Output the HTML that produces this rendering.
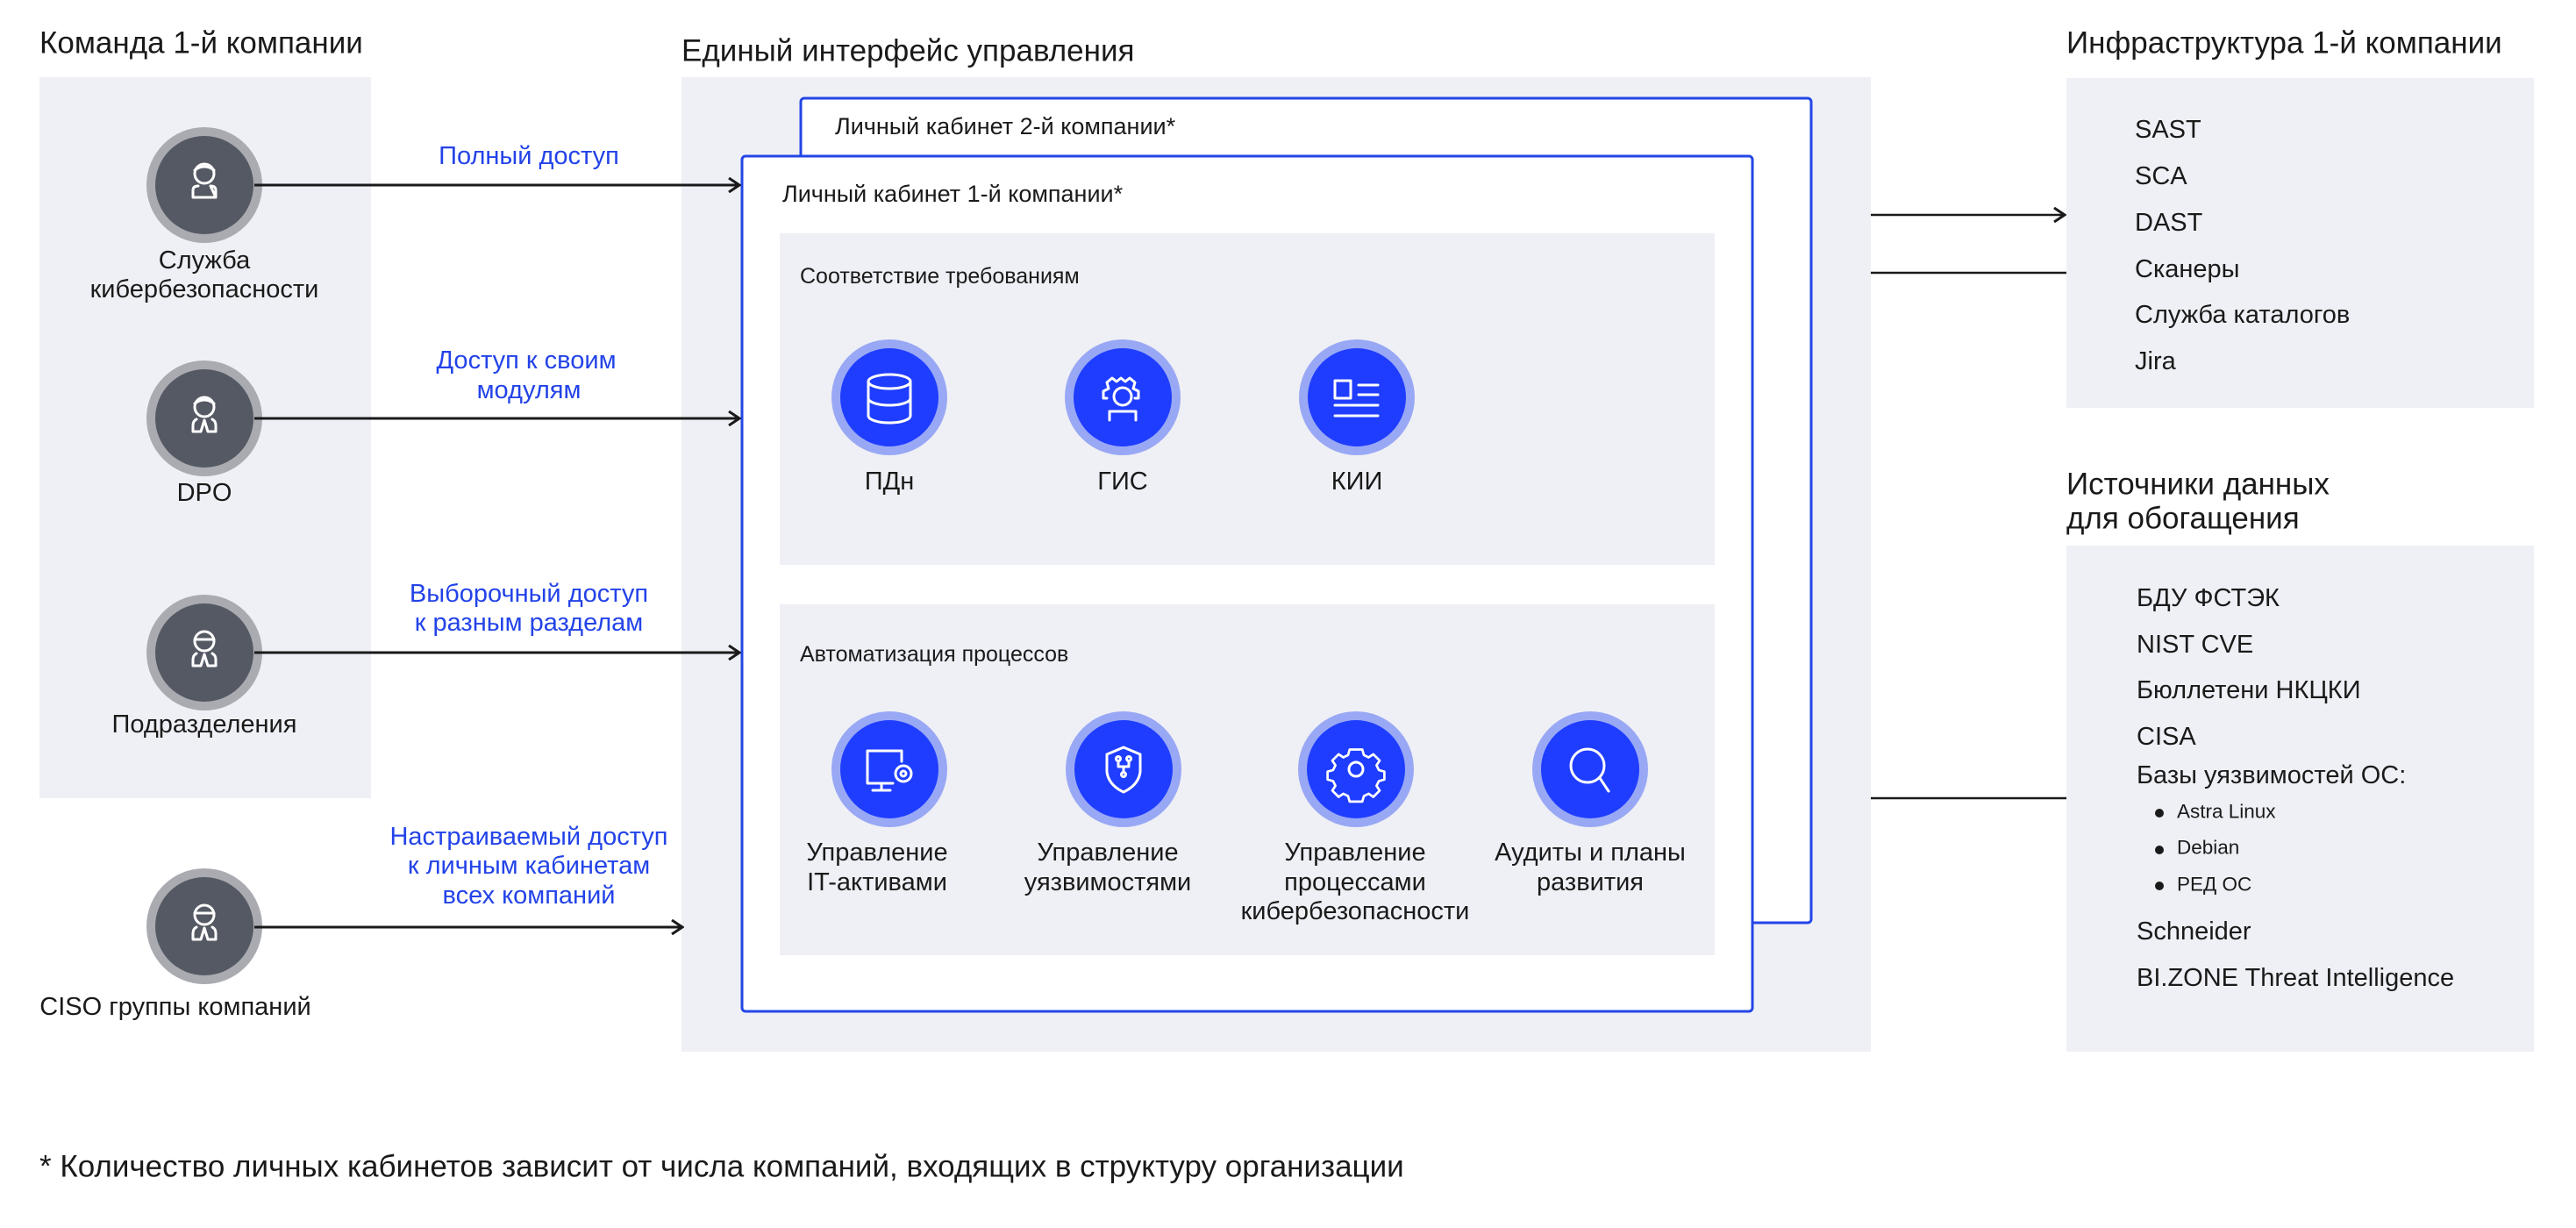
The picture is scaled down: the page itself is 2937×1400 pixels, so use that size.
<!DOCTYPE html>
<html><head><meta charset="utf-8"><style>
html,body{margin:0;padding:0;background:#fff;}
svg{display:block;}
text{font-family:"Liberation Sans","Noto Sans CJK SC",sans-serif;fill:#1a1a1a;dominant-baseline:central;}
.h{font-size:35px;}
.b{font-size:29px;}
.t{font-size:27px;}
.c{font-size:25px;}
.r{font-size:29px;}
.s{font-size:22.5px;}
.bl{fill:#2343e8;font-size:29px;}
.ic{fill:none;stroke:#fff;stroke-width:3;stroke-linecap:round;stroke-linejoin:round;}
</style></head><body>
<svg width="2937" height="1400" viewBox="0 0 2937 1400" xmlns="http://www.w3.org/2000/svg">
<defs>
<marker id="ah" markerWidth="20" markerHeight="20" refX="18" refY="10" orient="auto" markerUnits="userSpaceOnUse">
<path d="M6 2 L18 10 L6 18" fill="none" stroke="#1a1a1a" stroke-width="3"/>
</marker>
</defs>
<rect x="45" y="88" width="378" height="822" fill="#eff0f5"/>
<rect x="777" y="88" width="1356" height="1111" fill="#eff0f5"/>
<rect x="2356" y="89" width="533" height="376" fill="#eff0f5"/>
<rect x="2356" y="622" width="533" height="577" fill="#eff0f5"/>

<text class="h" x="45" y="49">Команда 1-й компании</text>
<text class="h" x="777" y="58">Единый интерфейс управления</text>
<text class="h" x="2356" y="49">Инфраструктура 1-й компании</text>
<text class="h" x="2356" y="552">Источники данных</text>
<text class="h" x="2356" y="591">для обогащения</text>

<rect x="913" y="112" width="1152" height="940" rx="4" fill="#fff" stroke="#2346e6" stroke-width="3"/>
<text class="t" x="952" y="144">Личный кабинет 2-й компании*</text>
<rect x="846" y="178" width="1152" height="975" rx="4" fill="#fff" stroke="#2346e6" stroke-width="3"/>
<text class="t" x="892" y="221">Личный кабинет 1-й компании*</text>

<rect x="889" y="266" width="1066" height="378" fill="#eff0f5"/>
<text class="c" x="912" y="315">Соответствие требованиям</text>
<rect x="889" y="689" width="1066" height="400" fill="#eff0f5"/>
<text class="c" x="912" y="746">Автоматизация процессов</text>

<g transform="translate(0 14)">
<circle cx="1014" cy="439" r="66" fill="#99a8f5"/><circle cx="1014" cy="439" r="56" fill="#1f3dff"/>
<circle cx="1280" cy="439" r="66" fill="#99a8f5"/><circle cx="1280" cy="439" r="56" fill="#1f3dff"/>
<circle cx="1547" cy="439" r="66" fill="#99a8f5"/><circle cx="1547" cy="439" r="56" fill="#1f3dff"/>
<g class="ic"><ellipse cx="1014" cy="421" rx="24" ry="8"/><path d="M990 421 V460 A24 8 0 0 0 1038 460 V421 M990 440 A24 8 0 0 0 1038 440"/></g>
<g class="ic"><circle cx="1280" cy="438" r="10"/><path d="M1262 440 l-4 0 0 -8 6 -3 -2 -7 6 -5 5 4 5 -4 5 4 5 -4 6 5 -2 7 6 3 0 8 -4 0"/><path d="M1265 465 V455 H1295 V465"/></g>
<g class="ic"><rect x="1522" y="420" width="18" height="20"/><path d="M1549 425 H1571 M1549 436 H1571 M1522 448 H1571 M1522 460 H1571"/></g>
</g>
<text class="b" x="1014" y="549" text-anchor="middle">ПДн</text>
<text class="b" x="1280" y="549" text-anchor="middle">ГИС</text>
<text class="b" x="1547" y="549" text-anchor="middle">КИИ</text>

<g>
<circle cx="1014" cy="877" r="66" fill="#99a8f5"/><circle cx="1014" cy="877" r="56" fill="#1f3dff"/>
<circle cx="1281" cy="877" r="66" fill="#99a8f5"/><circle cx="1281" cy="877" r="56" fill="#1f3dff"/>
<circle cx="1546" cy="877" r="66" fill="#99a8f5"/><circle cx="1546" cy="877" r="56" fill="#1f3dff"/>
<circle cx="1813" cy="877" r="66" fill="#99a8f5"/><circle cx="1813" cy="877" r="56" fill="#1f3dff"/>
<g class="ic"><path d="M1018 893 H989 V856 H1028 V868 M1005 893 V900 M995 901 H1015"/><circle cx="1030" cy="882" r="9"/><circle cx="1030" cy="882" r="3"/></g>
<g class="ic"><path d="M1281 852 L1262 860 V880 Q1264 895 1281 903 Q1298 895 1300 880 V860 Z"/><circle cx="1275" cy="865" r="2.5"/><circle cx="1287" cy="865" r="2.5"/><path d="M1275 868 V874 H1287 V868 M1281 874 V880"/><circle cx="1281" cy="883" r="2.5"/></g>
<g class="ic"><circle cx="1546" cy="877" r="8"/><path d="M1538 852 h16 l2 7 6 3 6 -4 8 8 -4 6 3 6 7 2 v10 l-7 2 -3 6 4 6 -8 8 -6 -4 -6 3 -2 7 h-16 l-2 -7 -6 -3 -6 4 -8 -8 4 -6 -3 -6 -7 -2 v-10 l7 -2 3 -6 -4 -6 8 -8 6 4 6 -3 z" transform="translate(1546 877) scale(0.9) translate(-1546 -877)"/></g>
<g class="ic"><circle cx="1810" cy="873" r="19"/><path d="M1824 887 L1834 902"/></g>
</g>
<text class="b" x="1000" y="972" text-anchor="middle">Управление</text>
<text class="b" x="1000" y="1006" text-anchor="middle">IT-активами</text>
<text class="b" x="1263" y="972" text-anchor="middle">Управление</text>
<text class="b" x="1263" y="1006" text-anchor="middle">уязвимостями</text>
<text class="b" x="1545" y="972" text-anchor="middle">Управление</text>
<text class="b" x="1545" y="1006" text-anchor="middle">процессами</text>
<text class="b" x="1545" y="1039" text-anchor="middle">кибербезопасности</text>
<text class="b" x="1813" y="972" text-anchor="middle">Аудиты и планы</text>
<text class="b" x="1813" y="1006" text-anchor="middle">развития</text>

<g>
<circle cx="233" cy="211" r="66" fill="#a9abb1"/><circle cx="233" cy="211" r="56" fill="#555963"/>
<circle cx="233" cy="477" r="66" fill="#a9abb1"/><circle cx="233" cy="477" r="56" fill="#555963"/>
<circle cx="233" cy="744" r="66" fill="#a9abb1"/><circle cx="233" cy="744" r="56" fill="#555963"/>
<circle cx="233" cy="1056" r="66" fill="#a9abb1"/><circle cx="233" cy="1056" r="56" fill="#555963"/>
<g class="ic" stroke-width="2.5">
<circle cx="233" cy="198" r="11"/><path d="M222 194 Q233 186 244 194"/><path d="M220 225 V217 Q220 212 226 212 M240 212 Q246 212 246 217 V225 Z M220 225 H246"/>
<circle cx="233" cy="464" r="11"/><path d="M222 460 Q233 452 244 460"/><path d="M224 478 Q220 480 220 485 V492 H229 L233 479 L237 492 H246 V485 Q246 480 242 478"/>
<circle cx="233" cy="731" r="11"/><path d="M222 729 H244"/><path d="M224 745 Q220 747 220 752 V759 H229 L233 746 L237 759 H246 V752 Q246 747 242 745"/>
<circle cx="233" cy="1043" r="11"/><path d="M222 1041 H244"/><path d="M224 1057 Q220 1059 220 1064 V1071 H229 L233 1058 L237 1071 H246 V1064 Q246 1059 242 1057"/>
</g>
</g>
<text class="b" x="233" y="297" text-anchor="middle">Служба</text>
<text class="b" x="233" y="330" text-anchor="middle">кибербезопасности</text>
<text class="b" x="233" y="562" text-anchor="middle">DPO</text>
<text class="b" x="233" y="826" text-anchor="middle">Подразделения</text>
<text class="b" x="200" y="1148" text-anchor="middle">CISO группы компаний</text>

<g stroke="#1a1a1a" stroke-width="3" fill="none">
<line x1="290" y1="211" x2="843" y2="211" marker-end="url(#ah)"/>
<line x1="290" y1="477" x2="843" y2="477" marker-end="url(#ah)"/>
<line x1="290" y1="744" x2="843" y2="744" marker-end="url(#ah)"/>
<line x1="290" y1="1057" x2="778" y2="1057" marker-end="url(#ah)"/>
<line x1="2133" y1="245" x2="2354" y2="245" marker-end="url(#ah)" stroke-width="2.5"/>
<line x1="2133" y1="311" x2="2356" y2="311" stroke-width="2.5"/>
<line x1="2133" y1="910" x2="2356" y2="910" stroke-width="2.5"/>
</g>
<text class="bl" x="603" y="178" text-anchor="middle">Полный доступ</text>
<text class="bl" x="600" y="411" text-anchor="middle">Доступ к своим</text>
<text class="bl" x="603" y="445" text-anchor="middle">модулям</text>
<text class="bl" x="603" y="677" text-anchor="middle">Выборочный доступ</text>
<text class="bl" x="603" y="710" text-anchor="middle">к разным разделам</text>
<text class="bl" x="603" y="954" text-anchor="middle">Настраиваемый доступ</text>
<text class="bl" x="603" y="987" text-anchor="middle">к личным кабинетам</text>
<text class="bl" x="603" y="1021" text-anchor="middle">всех компаний</text>

<text class="r" x="2434" y="148">SAST</text>
<text class="r" x="2434" y="201">SCA</text>
<text class="r" x="2434" y="254">DAST</text>
<text class="r" x="2434" y="307">Сканеры</text>
<text class="r" x="2434" y="359">Служба каталогов</text>
<text class="r" x="2434" y="412">Jira</text>

<text class="r" x="2436" y="682">БДУ ФСТЭК</text>
<text class="r" x="2436" y="735">NIST CVE</text>
<text class="r" x="2436" y="787">Бюллетени НКЦКИ</text>
<text class="r" x="2436" y="840">CISA</text>
<text class="r" x="2436" y="884">Базы уязвимостей ОС:</text>
<circle cx="2462" cy="927" r="5" fill="#1a1a1a"/><text class="s" x="2482" y="925">Astra Linux</text>
<circle cx="2462" cy="969" r="5" fill="#1a1a1a"/><text class="s" x="2482" y="966">Debian</text>
<circle cx="2462" cy="1010" r="5" fill="#1a1a1a"/><text class="s" x="2482" y="1008">РЕД ОС</text>
<text class="r" x="2436" y="1062">Schneider</text>
<text class="r" x="2436" y="1115">BI.ZONE Threat Intelligence</text>

<text class="h" x="45" y="1330">* Количество личных кабинетов зависит от числа компаний, входящих в структуру организации</text>
</svg>
</body></html>
